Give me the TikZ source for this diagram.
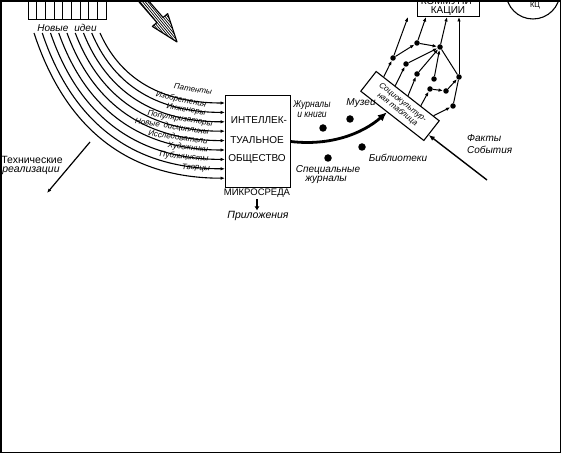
\documentclass[tikz,border=0pt]{standalone}
\usepackage{fontspec}
\setmainfont{Liberation Sans}
\newfontfamily\nf{Liberation Sans}
\newfontfamily\nfc[FakeStretch=0.85]{Liberation Sans}
\usetikzlibrary{arrows.meta,calc}
\begin{document}
\begin{tikzpicture}[x=1pt,y=-1pt,
  lbl/.style={inner sep=0pt, font=\nf\itshape\fontsize{10}{10}\selectfont},
  arclbl/.style={inner sep=0pt, font=\nf\itshape\fontsize{8}{8}\selectfont},
  caps/.style={inner sep=0pt, font=\nf\fontsize{10}{10}\selectfont},
  bigdot/.style={circle, fill, inner sep=0pt, minimum size=7.5pt},
  smalldot/.style={circle, fill, inner sep=0pt, minimum size=5.5pt},
  tip/.style={-{Latex[length=4.5pt,width=3.5pt]}},
  net/.style={-{Latex[length=4.5pt,width=3.5pt]}, line width=1pt},
]
\useasboundingbox (0,0) rectangle (562,454);
\begin{scope}
\clip (0,0) rectangle (562,454);

% top-left box of ideas
\draw[line width=1pt] (28,-5) rectangle (106,20);
\foreach \k in {1,...,8} \draw[line width=1pt] ({28+\k*78/9},-5) -- ({28+\k*78/9},20);
\node[lbl] (ni) at (67,28) {Новые\hspace{6pt}идеи};

% hatched arrow
\begin{scope}
\clip (136.9,-0.5) -- (156.9,22.5) -- (152.3,26.4) -- (177,42) -- (167.7,13.6) -- (163.1,17.5) -- (143.1,-5.5) -- cycle;
\foreach \o in {-9,-7,...,9}
  \draw[line width=0.7pt] ($(140,-3)+\o*(0.772,-0.635)+(-6.35,-7.72)$) -- ($(177,42)+\o*(0.772,-0.635)+(6.35,7.72)$);
\end{scope}
\draw[line width=1.1pt, line join=round] (136.9,-0.5) -- (156.9,22.5) -- (152.3,26.4) -- (177,42) -- (167.7,13.6) -- (163.1,17.5) -- (143.1,-5.5);

% intellectual society box
\node[draw, line width=1.1pt, minimum width=65pt, minimum height=92pt, anchor=north west, inner sep=0pt] (ib) at (225,95) {};
\node[caps] (ib1) at (259,120) {ИНТЕЛЛЕК-};
\node[caps] (ib2) at (257,140) {ТУАЛЬНОЕ};
\node[caps] (ib3) at (257,159) {ОБЩЕСТВО};

% arcs
\foreach \i in {0,...,8}{
  \pgfmathsetmacro\sx{100-8.25*\i}
  \pgfmathsetmacro\ey{103+9.4*\i}
  \pgfmathsetmacro\dx{225-\sx}
  \pgfmathsetmacro\dy{\ey-33}
  \coordinate (s\i) at (\sx,33);
  \coordinate (e\i) at (0,\ey);
  \draw[tip, line width=1.1pt] (s\i) .. controls ({\sx+0.15*\dx},{33+0.6*\dy}) and ({\sx+0.45*\dx},\ey) .. (ib.west |- e\i);
}
\node[arclbl, rotate=-10] (l1) at (193,89) {Патенты};
\node[arclbl, rotate=-13] (l2) at (181,100) {Изобретения};
\node[arclbl, rotate=-9] (l3) at (186,110) {Инженеры};
\node[arclbl, rotate=-9] (l4) at (180,119) {Популяризаторы};
\node[arclbl, rotate=-9] (l5) at (172,127) {Новые\hspace{4pt}дисциплины};
\node[arclbl, rotate=-8] (l6) at (178,137) {Исследователи};
\node[arclbl, rotate=-6] (l7) at (188,148) {Художники};
\node[arclbl, rotate=-5] (l8) at (184,157) {Публицисты};
\node[arclbl, rotate=-3] (l9) at (196,168) {Творцы};

% technical realisations
\coordinate (tr0) at (90,142);
\node[inner sep=0pt, font=\nf\fontsize{10.5}{10.5}\selectfont] (tr1) at (32,160) {Технические};
\node[inner sep=0pt, font=\nf\itshape\fontsize{10.5}{10.5}\selectfont] (tr2) at (31,171) {реализации};
\coordinate (tr3) at (47,193);
\draw[tip, line width=1.2pt] (tr0) -- (tr3);

% microenvironment
\node[inner sep=0pt, font=\nf\fontsize{9.5}{9.5}\selectfont] (mk) at (257,193) {МИКРОСРЕДА};
\node[inner sep=0pt, font=\nf\itshape\fontsize{10.5}{10.5}\selectfont] (pr) at (258,216) {Приложения};
\draw[-{Latex[length=4pt,width=5pt]}, line width=1.4pt] (mk.south) ++(0,2) coordinate (mk1) -- ++(0,11) coordinate (mk2);

% sociocultural table
\node[draw, line width=1.1pt, rotate=-38, minimum width=80pt, minimum height=25pt, inner sep=0.5pt, align=center, font=\nf\itshape\fontsize{8}{8.8}\selectfont] (st) at (400,106) {Социокультур-\\ная таблица};

% thick arrow
\draw[-{Latex[length=9pt,width=8pt]}, line width=2.8pt] (ib.east) .. controls (330,146) and (362,134) .. ($(st.south west)!0.42!(st.south east)$);

% dots and labels in middle
\node[bigdot] (d1) at (323,128) {};
\node[bigdot] (d2) at (350,119) {};
\node[bigdot] (d3) at (328,158) {};
\node[bigdot] (d4) at (362,147) {};
\node[inner sep=0pt, font=\nfc\itshape\fontsize{10}{10}\selectfont] (jk1) at (312,105) {Журналы};
\node[inner sep=0pt, font=\nfc\itshape\fontsize{10}{10}\selectfont] (jk2) at (312,115) {и книги};
\node[lbl] (mu) at (361,103) {Музеи};
\node[lbl] (sj1) at (328,170) {Специальные};
\node[lbl] (sj2) at (326,180) {журналы};
\node[lbl] (bi) at (398,158) {Библиотеки};

% facts
\node[lbl, anchor=west] (fa1) at (467,138) {Факты};
\node[lbl, anchor=west] (fa2) at (467,150) {События};
\coordinate (fa0) at (487,180);
\draw[-{Latex[length=6pt,width=5pt]}, line width=1.4pt] (fa0) -- ($(st.south east)!0.3!(st.north east)$);

% communications box
\node[draw, line width=1.1pt, minimum width=62pt, minimum height=28pt, anchor=south west, inner sep=0pt] (cb) at (417,17) {};
\node[caps] (cb1) at (448,1) {КОММУНИ-};
\node[caps] (cb2) at (448,11) {КАЦИИ};

% circle top right
\node[draw, circle, line width=1.1pt, minimum size=54pt, inner sep=0pt] (ci) at (533,-8) {};
\node[inner sep=0pt, font=\nf\fontsize{7.5}{7.5}\selectfont] (ci1) at (535,6) {КЦ};

% network
\node[smalldot] (n1) at (417,43) {};
\node[smalldot] (n2) at (393,58) {};
\node[smalldot] (n3) at (406,64) {};
\node[smalldot] (n4) at (440,47) {};
\node[smalldot] (n5) at (417,74) {};
\node[smalldot] (n6) at (434,79) {};
\node[smalldot] (n7) at (459,77) {};
\node[smalldot] (n8) at (430,89) {};
\node[smalldot] (n9) at (446,91) {};
\node[smalldot] (n10) at (453,106) {};
\draw[net] (n2) -- (cb.south west -| 408,0);
\draw[net] (n1) -- (cb.south -| 426,0);
\draw[net] (n4) -- (cb.south -| 447,0);
\draw[net] (n7) -- (cb.south -| 459,0);
\draw[net] (n2) -- (n1);
\draw[net] (n1) -- (n4);
\draw[net] (n3) -- (n4);
\draw[net] (n5) -- (n4);
\draw[net] (n6) -- (n4);
\draw[line width=1pt] (n4) -- (n7);
\draw[net] (n8) -- (n9);
\draw[net] (n9) -- (n7);
\draw[line width=1pt] (n10) -- (n7);
\draw[net] ($(st.north west)!0.12!(st.north east)$) -- (n2);
\draw[net] ($(st.north west)!0.3!(st.north east)$) -- (n3);
\draw[net] ($(st.north west)!0.5!(st.north east)$) -- (n5);
\draw[net] ($(st.north west)!0.7!(st.north east)$) -- (n8);
\draw[net] ($(st.north west)!0.9!(st.north east)$) -- (n10);
\end{scope}
\draw[line width=1.5pt] (1,1) rectangle (560.5,452.5);
\end{tikzpicture}
\end{document}
